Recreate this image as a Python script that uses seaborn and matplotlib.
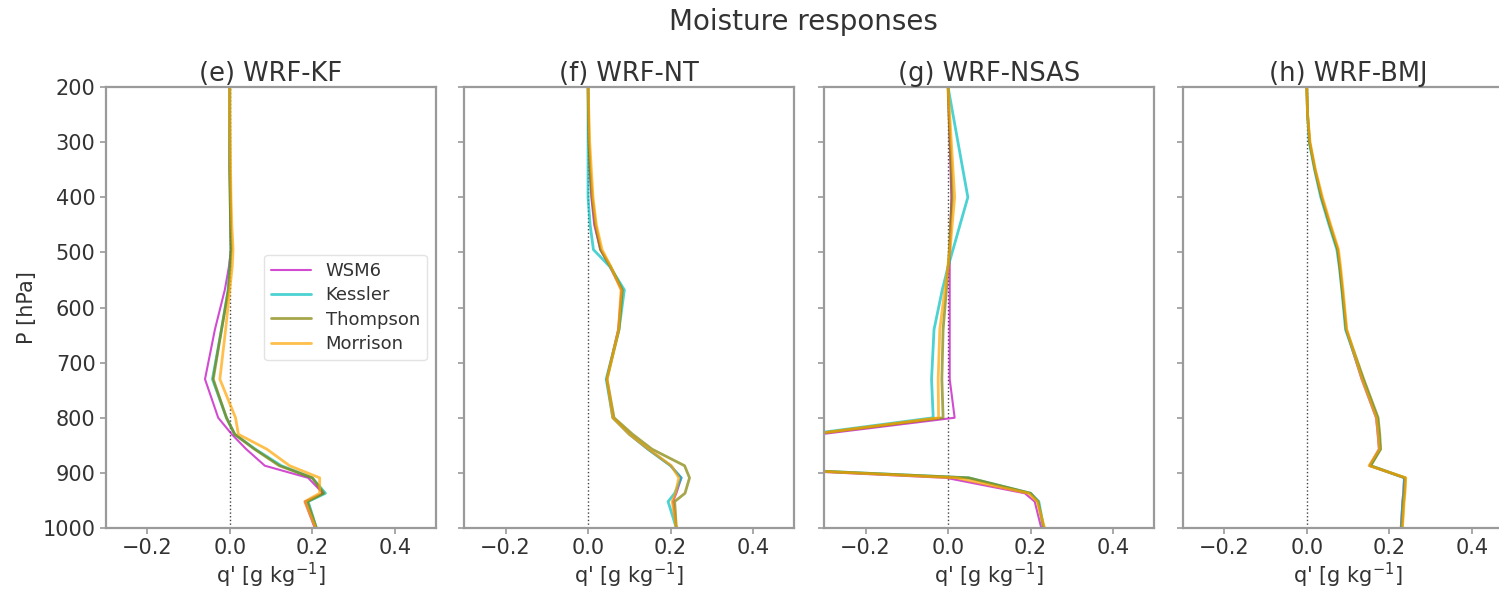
import numpy as np
import pandas as pd
import matplotlib
matplotlib.use("Agg")
import matplotlib.pyplot as plt
import seaborn as sns

# Pressure levels (hPa), surface to upper troposphere
levels = [1000, 952, 937, 909, 887, 857, 830, 800, 730, 640, 568, 526,
          495, 450, 400, 350, 300, 250, 200]

schemes = ["WSM6", "Kessler", "Thompson", "Morrison"]
panel_titles = ["(e) WRF-KF", "(f) WRF-NT", "(g) WRF-NSAS", "(h) WRF-BMJ"]

# Specific humidity perturbation q' [g/kg] for each cumulus / microphysics pair
kf_wsm6 = [0.206, 0.182, 0.226, 0.19, 0.085, 0.04, 0.005, -0.028, -0.06, -0.036, -0.012, -0.002, 0.003, 0.002, 0.001, 0.0, 0.0, 0.0, 0.0]
kf_kessler = [0.21, 0.19, 0.232, 0.2, 0.125, 0.062, 0.012, -0.008, -0.042, -0.02, -0.004, 0.0, 0.003, 0.002, 0.001, 0.0, 0.0, 0.0, 0.0]
kf_thompson = [0.21, 0.188, 0.228, 0.2, 0.12, 0.06, 0.012, -0.008, -0.04, -0.02, -0.003, 0.001, 0.003, 0.002, 0.001, 0.0, 0.0, 0.0, 0.0]
kf_morrison = [0.208, 0.182, 0.218, 0.218, 0.145, 0.09, 0.021, 0.014, -0.024, -0.01, 0.0, 0.006, 0.008, 0.005, 0.003, 0.002, 0.001, 0.0, 0.0]

nt_wsm6 = [0.214, 0.206, 0.214, 0.226, 0.2, 0.145, 0.1, 0.06, 0.045, 0.073, 0.081, 0.053, 0.03, 0.015, 0.008, 0.004, 0.002, 0.001, 0.0]
nt_kessler = [0.214, 0.194, 0.21, 0.226, 0.2, 0.145, 0.1, 0.06, 0.044, 0.075, 0.088, 0.053, 0.013, 0.005, 0.0, 0.0, 0.0, 0.0, 0.0]
nt_thompson = [0.214, 0.21, 0.235, 0.246, 0.234, 0.155, 0.108, 0.063, 0.046, 0.075, 0.083, 0.055, 0.03, 0.018, 0.01, 0.005, 0.002, 0.001, 0.0]
nt_morrison = [0.214, 0.204, 0.212, 0.22, 0.202, 0.147, 0.1, 0.06, 0.046, 0.074, 0.08, 0.055, 0.034, 0.02, 0.012, 0.008, 0.004, 0.002, 0.0]

nsas_wsm6 = [0.226, 0.21, 0.186, -0.005, -0.62, -0.8, -0.31, 0.016, 0.004, 0.004, 0.004, 0.004, 0.005, 0.006, 0.008, 0.006, 0.004, 0.002, 0.0]
nsas_kessler = [0.232, 0.22, 0.2, 0.05, -0.6, -0.8, -0.34, -0.036, -0.04, -0.034, -0.014, 0.0, 0.012, 0.029, 0.048, 0.036, 0.024, 0.012, 0.0]
nsas_thompson = [0.232, 0.218, 0.2, 0.05, -0.6, -0.8, -0.33, -0.012, -0.015, -0.012, -0.004, 0.0, 0.003, 0.006, 0.01, 0.008, 0.005, 0.002, 0.0]
nsas_morrison = [0.234, 0.216, 0.195, 0.02, -0.6, -0.8, -0.33, -0.023, -0.024, -0.02, -0.008, 0.0, 0.005, 0.01, 0.016, 0.012, 0.008, 0.004, 0.0]

bmj_wsm6 = [0.228, 0.232, 0.234, 0.236, 0.152, 0.175, 0.172, 0.168, 0.133, 0.095, 0.086, 0.08, 0.075, 0.056, 0.036, 0.02, 0.007, 0.002, 0.0]
bmj_kessler = [0.229, 0.233, 0.235, 0.237, 0.154, 0.178, 0.175, 0.171, 0.136, 0.094, 0.085, 0.079, 0.073, 0.054, 0.034, 0.019, 0.006, 0.002, 0.0]
bmj_thompson = [0.231, 0.235, 0.237, 0.239, 0.155, 0.179, 0.177, 0.173, 0.138, 0.096, 0.086, 0.08, 0.075, 0.056, 0.036, 0.02, 0.007, 0.002, 0.0]
bmj_morrison = [0.232, 0.236, 0.238, 0.240, 0.151, 0.176, 0.173, 0.169, 0.134, 0.097, 0.088, 0.082, 0.077, 0.058, 0.038, 0.021, 0.008, 0.002, 0.0]

panels = [
    [kf_wsm6, kf_kessler, kf_thompson, kf_morrison],
    [nt_wsm6, nt_kessler, nt_thompson, nt_morrison],
    [nsas_wsm6, nsas_kessler, nsas_thompson, nsas_morrison],
    [bmj_wsm6, bmj_kessler, bmj_thompson, bmj_morrison],
]

colors = {"WSM6": "#bf00bf", "Kessler": "#00bfbf", "Thompson": "#808000", "Morrison": "#ffa500"}
widths = {"WSM6": 1.5, "Kessler": 2.0, "Thompson": 2.0, "Morrison": 2.0}

sns.set_theme(style="ticks")
plt.rcParams["font.family"] = ["DejaVu Sans"]
plt.rcParams.update({
    "axes.edgecolor": "#9a9a9a",
    "axes.linewidth": 1.6,
    "xtick.color": "#9a9a9a",
    "ytick.color": "#9a9a9a",
    "xtick.labelcolor": "#333333",
    "ytick.labelcolor": "#333333",
    "text.color": "#333333",
    "axes.labelcolor": "#333333",
    "xtick.labelsize": 15,
    "ytick.labelsize": 15,
})

fig = plt.figure(figsize=(14.99, 5.90), dpi=100)
W, H = 1499.0, 590.0
lefts = [106, 464.3, 824.3, 1183]
ax_w, ax_top, ax_bot = 330.0, 87.0, 528.0

for i, (title, series) in enumerate(zip(panel_titles, panels)):
    ax = fig.add_axes([lefts[i] / W, 1 - ax_bot / H, ax_w / W, (ax_bot - ax_top) / H])
    df = pd.DataFrame({
        "p": np.tile(levels, len(schemes)),
        "q": np.concatenate(series),
        "scheme": np.repeat(schemes, len(levels)),
    })
    ax.axvline(0, color="#444444", lw=1.0, ls=":", zorder=1)
    for name in schemes:
        sns.lineplot(data=df[df["scheme"] == name], x="q", y="p", orient="y",
                     estimator=None, color=colors[name], alpha=0.7,
                     lw=widths[name], label=name, ax=ax, legend=(i == 0))
    ax.set_xlim(-0.3, 0.5)
    ax.set_ylim(1000, 200)
    ax.set_xticks([-0.2, 0.0, 0.2, 0.4])
    ax.set_yticks(np.arange(200, 1001, 100))
    ax.tick_params(length=4, width=1.2)
    ax.set_xlabel("q' [g kg$^{-1}$]", fontsize=15, labelpad=2)
    ax.set_title(title, fontsize=18.5, pad=4)
    if i == 0:
        ax.set_ylabel("P [hPa]", fontsize=15)
        ax.legend(loc="center right", fontsize=13, labelspacing=0.35,
                  handlelength=2.2, framealpha=0.8, edgecolor="#dddddd")
    else:
        ax.set_ylabel("")
        ax.set_yticklabels([])
    if i == len(panels) - 1:
        ax.spines["right"].set_visible(False)

fig.text(0.536, 0.962, "Moisture responses", ha="center", va="center", fontsize=20)

fig.savefig("out.png", dpi=100)
